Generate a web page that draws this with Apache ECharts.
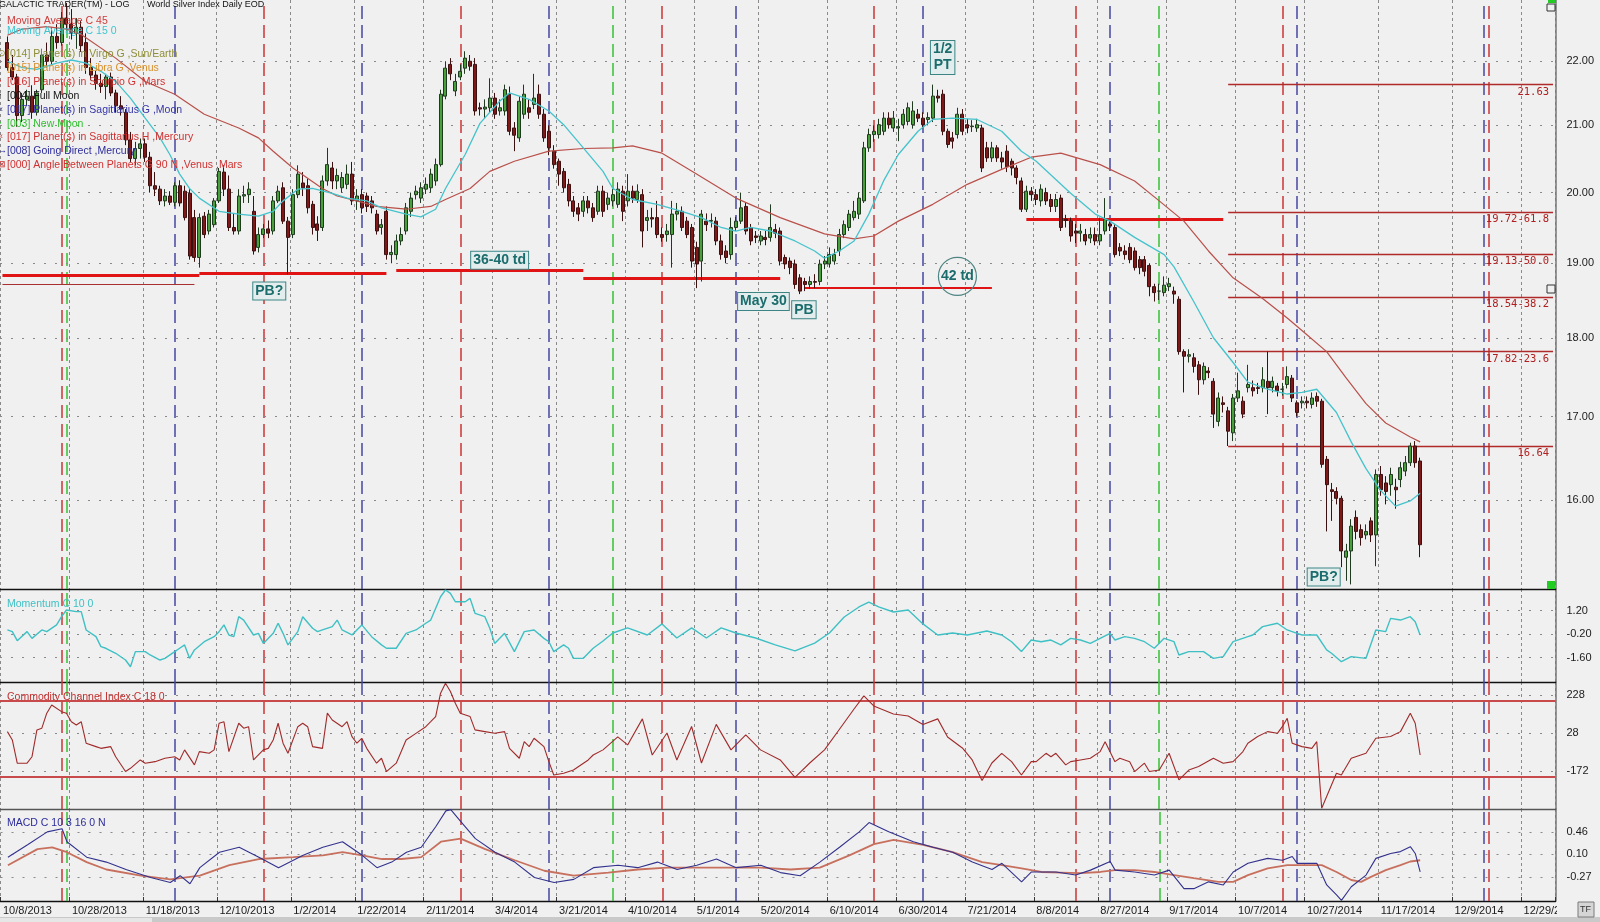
<!DOCTYPE html>
<html><head><meta charset="utf-8">
<script src="https://cdn.jsdelivr.net/npm/echarts@6/dist/echarts.min.js"></script>
<style>html,body{margin:0;padding:0;background:#f0f0f0;overflow:hidden}#c{width:1600px;height:922px}</style>
</head><body><div id="c"></div>
<script>
// ---------------- calendar / tick labels ----------------
const firstDay = [2013, 9, 8];          // 10/8/2013 (category 0, mostly off the left edge)
const dayCount = 316;
const holidays = ['2013-11-28','2013-12-25','2014-01-01','2014-01-20','2014-02-17','2014-04-18','2014-05-26','2014-07-04','2014-09-01','2014-11-27'];
const tickLabels = ['10/8/2013','10/28/2013','11/18/2013','12/10/2013','1/2/2014','1/22/2014','2/11/2014','3/4/2014','3/21/2014','4/10/2014','5/1/2014','5/20/2014','6/10/2014','6/30/2014','7/21/2014','8/8/2014','8/27/2014','9/17/2014','10/7/2014','10/27/2014','11/17/2014','12/9/2014','12/29/2014'];
const priceGrid = [16,17,18,19,20,21,22];
const priceLabels = [15,16,17,18,19,20,21,22,23,15.49];
const momTicks = [1.20,-0.20,-1.60];
const cciTicks = [228,28,-172];
const macdTicks = [0.46,0.10,-0.27];

// ---------------- price bars: [open, high, low, close]; bars[0] = 10/9/2013 ----------------
const bars = [
[22.30,22.40,21.85,21.90],[21.90,22.10,21.70,21.75],[21.75,21.80,20.98,21.15],[21.15,21.50,21.05,21.40],[21.40,21.55,21.30,21.45],
[21.45,21.62,21.10,21.20],[21.20,21.55,21.15,21.50],[21.55,22.20,21.50,22.10],[22.10,22.30,21.90,22.00],[22.00,22.55,21.95,22.40],
[22.40,22.60,22.20,22.30],[22.30,22.80,22.25,22.70],[22.70,22.95,22.50,22.60],[22.60,22.85,22.35,22.45],[22.45,22.70,22.20,22.55],
[22.55,22.65,22.15,22.25],[22.30,22.45,21.80,21.90],[21.90,22.05,21.70,21.78],[21.78,21.85,21.55,21.65],[21.65,21.80,21.50,21.60],
[21.60,21.80,21.40,21.75],[21.75,21.82,21.45,21.50],[21.50,21.55,21.20,21.30],[21.30,21.45,21.15,21.25],[21.20,21.25,20.70,20.78],
[20.78,20.90,20.45,20.50],[20.50,20.75,20.40,20.65],[20.65,20.80,20.50,20.72],[20.72,20.80,20.45,20.52],[20.52,20.60,20.00,20.10],
[20.10,20.30,19.95,20.05],[20.05,20.10,19.82,19.88],[19.88,20.05,19.80,19.95],[19.95,20.02,19.82,19.86],[19.86,20.15,19.80,20.10],
[20.10,20.18,19.80,19.85],[20.02,20.10,19.60,19.64],[19.99,20.05,19.05,19.10],[19.64,19.75,19.02,19.08],[19.08,19.70,18.94,19.64],
[19.66,19.72,19.35,19.40],[19.45,19.75,19.40,19.69],[19.54,19.92,19.50,19.88],[19.88,20.36,19.85,20.31],[20.30,20.40,19.95,20.05],
[20.05,20.25,19.45,19.50],[19.50,19.70,19.40,19.45],[19.45,20.05,19.40,19.95],[19.95,20.10,19.85,19.97],[19.97,20.15,19.85,20.05],
[19.73,19.95,19.12,19.17],[19.22,19.50,19.15,19.40],[19.40,19.55,19.35,19.48],[19.48,19.60,19.35,19.42],[19.45,19.95,19.40,19.88],
[19.88,20.10,19.85,20.02],[20.07,20.15,19.55,19.59],[19.59,19.65,18.85,19.36],[19.40,20.05,19.35,19.97],[19.97,20.40,19.92,20.27],
[20.14,20.30,19.95,20.07],[20.10,20.20,19.70,19.78],[19.83,19.88,19.40,19.50],[19.55,19.66,19.31,19.46],[19.50,20.25,19.45,20.17],
[20.17,20.66,20.10,20.41],[20.36,20.45,20.05,20.17],[20.17,20.35,20.05,20.25],[20.07,20.30,20.00,20.22],[20.12,20.41,20.05,20.27],
[20.27,20.45,19.82,19.88],[19.88,20.05,19.75,19.95],[19.97,20.05,19.70,19.78],[19.95,20.00,19.72,19.80],[19.88,19.95,19.70,19.78],
[19.69,19.75,19.40,19.45],[19.50,19.62,19.40,19.54],[19.73,19.80,19.05,19.12],[19.12,19.25,19.00,19.15],[19.12,19.40,19.05,19.31],
[19.31,19.50,19.25,19.40],[19.45,19.85,19.40,19.78],[19.73,20.00,19.65,19.92],[19.97,20.10,19.90,20.02],[19.92,20.15,19.85,20.07],
[20.05,20.22,19.98,20.12],[20.07,20.35,20.00,20.27],[20.17,20.50,20.10,20.41],[20.41,21.55,20.38,21.48],[21.45,22.00,21.40,21.89],
[21.95,22.05,21.70,21.80],[21.53,21.80,21.45,21.68],[21.75,21.95,21.70,21.84],[21.89,22.16,21.80,22.05],[22.00,22.10,21.85,21.92],
[21.95,22.05,21.15,21.22],[21.27,21.35,21.15,21.25],[21.25,21.40,21.10,21.28],[21.27,21.73,21.20,21.42],[21.42,21.50,21.10,21.17],
[21.22,21.40,21.15,21.27],[21.22,21.63,21.15,21.55],[21.48,21.60,20.85,20.91],[20.96,21.05,20.61,20.85],[20.81,21.45,20.75,21.37],
[21.17,21.63,21.10,21.48],[21.27,21.40,21.10,21.20],[21.32,21.80,21.25,21.42],[21.48,21.63,21.10,21.17],[21.17,21.25,20.75,20.81],
[20.91,21.00,20.55,20.66],[20.61,20.70,20.35,20.41],[20.46,20.50,20.10,20.27],[20.31,20.36,20.00,20.07],[20.12,20.20,19.80,19.88],
[19.88,19.95,19.65,19.73],[19.78,19.85,19.59,19.69],[19.73,19.95,19.65,19.88],[19.88,19.95,19.70,19.78],[19.78,19.85,19.58,19.64],
[19.73,20.10,19.68,20.02],[20.02,20.10,19.65,19.73],[19.83,20.00,19.75,19.92],[19.88,20.05,19.80,19.97],[19.83,20.15,19.78,20.05],
[20.02,20.10,19.59,19.73],[19.88,20.27,19.80,20.02],[20.02,20.10,19.85,19.92],[19.90,20.12,19.85,20.02],[19.97,20.05,19.22,19.45],
[19.60,19.75,19.45,19.64],[19.64,19.78,19.50,19.62],[19.64,19.88,19.35,19.40],[19.40,19.50,19.30,19.36],[19.40,19.55,19.30,19.45],
[19.40,19.88,18.94,19.69],[19.69,19.85,19.60,19.73],[19.73,19.80,19.45,19.50],[19.59,19.65,19.35,19.40],[19.50,19.55,18.94,19.03],
[19.22,19.30,18.66,18.99],[19.03,19.75,18.75,19.69],[19.59,19.70,19.45,19.54],[19.59,19.70,19.50,19.60],[19.59,19.65,19.25,19.31],
[19.31,19.40,19.05,19.12],[19.17,19.25,19.00,19.08],[19.12,19.64,19.05,19.50],[19.50,19.65,19.45,19.59],[19.59,20.00,19.55,19.78],
[19.80,19.85,19.40,19.45],[19.50,19.55,19.25,19.31],[19.38,19.45,19.28,19.36],[19.31,19.45,19.25,19.38],[19.36,19.45,19.25,19.33],
[19.36,19.83,19.30,19.50],[19.47,19.55,19.35,19.42],[19.45,19.50,18.97,19.03],[19.08,19.12,18.92,18.99],[19.03,19.08,18.85,18.94],
[18.99,19.05,18.65,18.71],[18.80,18.85,18.58,18.62],[18.75,18.80,18.62,18.71],[18.71,18.82,18.65,18.75],[18.75,18.85,18.66,18.74],
[18.75,19.05,18.70,18.99],[18.99,19.10,18.92,19.03],[18.99,19.22,18.94,19.12],[19.03,19.20,18.98,19.12],[19.17,19.48,19.10,19.40],
[19.40,19.60,19.35,19.54],[19.50,19.75,19.45,19.69],[19.64,19.88,19.60,19.73],[19.69,20.00,19.62,19.92],[19.88,20.75,19.85,20.66],
[20.66,20.95,20.60,20.86],[20.86,21.00,20.75,20.91],[20.86,21.10,20.80,21.01],[20.91,21.20,20.85,21.11],[21.11,21.20,20.95,21.01],
[20.96,21.22,20.90,21.11],[20.96,21.10,20.76,20.98],[21.01,21.25,20.95,21.17],[21.06,21.35,21.00,21.27],[21.01,21.37,20.95,21.22],
[21.17,21.25,21.05,21.11],[21.11,21.20,20.95,21.01],[21.09,21.20,21.00,21.12],[21.11,21.63,21.05,21.45],[21.45,21.55,21.35,21.42],
[21.48,21.55,20.85,20.91],[20.91,20.95,20.66,20.71],[20.81,20.90,20.65,20.76],[20.86,21.27,20.80,21.17],[21.17,21.25,20.85,20.91],
[21.01,21.10,20.88,20.96],[20.98,21.08,20.90,20.99],[20.96,21.10,20.90,21.01],[20.96,21.01,20.30,20.36],[20.66,20.75,20.45,20.51],
[20.51,20.75,20.45,20.66],[20.66,20.70,20.45,20.51],[20.51,20.60,20.35,20.45],[20.61,20.70,20.30,20.38],[20.46,20.50,20.25,20.36],
[20.36,20.40,20.12,20.22],[20.17,20.22,19.72,19.76],[19.76,20.10,19.72,20.02],[20.02,20.08,19.88,19.97],[19.97,20.05,19.82,19.90],
[19.88,20.12,19.80,20.05],[20.00,20.07,19.82,19.88],[19.90,19.98,19.72,19.80],[19.80,19.98,19.72,19.90],[19.92,19.97,19.45,19.50],
[19.62,19.68,19.50,19.60],[19.59,19.64,19.30,19.38],[19.45,19.55,19.28,19.42],[19.42,19.55,19.30,19.45],[19.40,19.48,19.25,19.31],
[19.35,19.50,19.28,19.40],[19.40,19.50,19.25,19.31],[19.31,19.64,19.25,19.40],[19.45,19.92,19.40,19.62],[19.55,19.60,19.45,19.52],
[19.50,19.55,19.08,19.12],[19.22,19.28,19.10,19.17],[19.17,19.25,19.05,19.12],[19.22,19.28,19.00,19.05],[19.17,19.22,18.90,18.94],
[19.05,19.10,18.85,18.94],[19.05,19.10,18.82,18.89],[18.97,19.00,18.55,18.68],[18.68,18.72,18.48,18.60],[18.62,18.72,18.50,18.62],
[18.60,18.82,18.55,18.70],[18.68,18.80,18.62,18.72],[18.62,18.68,18.45,18.58],[18.51,18.55,17.78,17.82],[17.82,17.85,17.30,17.76],
[17.76,17.85,17.68,17.78],[17.74,17.80,17.55,17.63],[17.65,17.70,17.27,17.46],[17.46,17.68,17.40,17.63],[17.57,17.62,17.48,17.55],
[17.44,17.48,16.86,17.03],[16.94,17.30,16.88,17.23],[17.17,17.25,17.05,17.15],[17.07,17.12,16.64,16.82],[16.80,17.28,16.70,17.23],
[17.23,17.55,17.18,17.32],[17.19,17.25,16.98,17.03],[17.36,17.65,17.30,17.40],[17.36,17.45,17.25,17.32],[17.36,17.42,17.28,17.35],
[17.36,17.62,17.30,17.46],[17.44,17.82,17.03,17.36],[17.36,17.50,17.30,17.44],[17.38,17.42,17.25,17.32],[17.34,17.42,17.26,17.34],
[17.40,17.63,17.35,17.50],[17.48,17.52,17.18,17.23],[17.17,17.20,17.00,17.05],[17.17,17.25,17.10,17.19],[17.19,17.25,17.10,17.17],
[17.15,17.30,17.10,17.23],[17.25,17.30,17.12,17.19],[17.19,17.22,16.38,16.42],[16.48,16.52,15.64,16.18],[16.12,16.20,15.76,16.10],
[16.10,16.15,15.95,16.02],[16.02,16.05,15.24,15.42],[15.35,15.50,15.09,15.42],[15.42,15.78,15.05,15.70],[15.80,15.88,15.55,15.64],
[15.66,15.72,15.48,15.57],[15.60,15.72,15.55,15.64],[15.76,15.80,15.52,15.60],[15.60,16.36,15.25,16.30],[16.30,16.40,16.05,16.12],
[16.20,16.28,15.95,16.10],[16.18,16.38,16.05,16.30],[16.15,16.25,15.90,16.12],[16.24,16.45,16.15,16.38],[16.34,16.52,16.28,16.44],
[16.44,16.68,16.40,16.64],[16.64,16.70,16.38,16.44],[16.46,16.50,15.35,15.49]
];

// ---------------- moving averages / indicators: [bar number, value] ----------------
const ma45 = [[0,22.42],[3,22.52],[8,22.56],[12,22.52],[15,22.43],[22,22.05],[28,21.68],[34,21.48],[40,21.17],[47,20.96],[51,20.81],[54,20.61],[58,20.36],[64,20.06],[67,19.95],[71,19.88],[75,19.80],[81,19.76],[86,19.80],[89,19.90],[94,20.06],[98,20.31],[103,20.46],[110,20.61],[117,20.65],[123,20.66],[127,20.69],[133,20.58],[140,20.27],[148,19.92],[157,19.64],[166,19.41],[172,19.34],[176,19.38],[181,19.59],[188,19.83],[195,20.12],[202,20.34],[208,20.52],[214,20.58],[222,20.41],[229,20.17],[234,19.88],[239,19.59],[244,19.17],[249,18.80],[255,18.52],[260,18.26],[264,18.04],[268,17.82],[272,17.48],[276,17.16],[280,16.92],[285,16.75],[287,16.69]];
const ma15 = [[0,22.00],[3,21.90],[6,21.87],[10,21.97],[13,22.02],[16,21.97],[19,21.84],[22,21.68],[25,21.42],[28,21.11],[31,20.81],[33,20.56],[35,20.27],[37,20.06],[39,19.92],[43,19.73],[47,19.69],[51,19.66],[54,19.73],[56,19.88],[59,20.05],[62,20.06],[66,19.99],[69,19.92],[73,19.88],[76,19.78],[81,19.69],[84,19.65],[87,19.76],[89,20.06],[93,20.56],[96,21.03],[100,21.37],[102,21.50],[106,21.40],[110,21.22],[113,21.01],[117,20.66],[121,20.31],[123,20.06],[127,19.90],[132,19.83],[137,19.73],[141,19.64],[145,19.50],[148,19.45],[151,19.50],[155,19.45],[160,19.31],[164,19.17],[166,19.07],[169,19.17],[172,19.31],[175,19.69],[178,20.17],[181,20.56],[185,20.91],[188,21.09],[192,21.11],[197,21.09],[202,20.91],[206,20.61],[209,20.46],[216,19.99],[221,19.69],[224,19.59],[229,19.36],[235,19.12],[237,18.95],[241,18.48],[245,18.00],[249,17.68],[252,17.43],[256,17.34],[260,17.28],[263,17.30],[266,17.34],[270,17.05],[273,16.69],[276,16.37],[279,16.11],[282,15.93],[285,15.99],[287,16.08]];
const momentum = [[0,0.04],[1,-0.06],[2,-0.60],[4,-0.06],[5,-0.46],[7,0.04],[8,-0.06],[10,0.34],[11,0.83],[12,1.23],[14,1.13],[15,1.13],[16,0.04],[18,-0.36],[19,-0.95],[20,-1.05],[22,-1.35],[24,-1.75],[25,-2.15],[26,-1.25],[28,-1.25],[29,-1.45],[31,-1.75],[32,-1.65],[34,-1.25],[35,-1.05],[36,-0.85],[37,-1.65],[38,-1.15],[40,-0.66],[42,-0.36],[43,-0.06],[44,0.34],[45,-0.26],[46,-0.36],[47,0.83],[48,0.63],[50,-0.26],[51,-0.16],[52,-0.76],[54,-0.16],[55,0.44],[56,-0.16],[57,-0.85],[59,-0.06],[60,0.83],[62,0.14],[63,-0.06],[64,0.04],[66,0.24],[67,0.63],[68,0.04],[70,-0.26],[72,0.34],[74,-0.36],[76,-0.85],[77,-1.05],[79,-1.05],[81,-0.16],[83,0.04],[85,0.44],[86,0.63],[88,2.02],[89,2.42],[90,2.22],[91,1.72],[93,1.72],[94,1.92],[95,1.03],[97,0.83],[98,0.14],[99,-0.76],[101,-0.16],[103,-1.25],[105,-0.06],[107,0.04],[109,-0.46],[110,-0.66],[111,-1.25],[113,-0.85],[114,-1.05],[115,-1.65],[117,-1.65],[119,-1.05],[121,-0.62],[123,-0.14],[126,0.16],[130,-0.26],[133,0.40],[136,-0.44],[139,0.16],[142,-0.44],[145,0.16],[148,-0.14],[152,-0.44],[156,-0.85],[160,-1.21],[164,-0.74],[167,-0.14],[170,0.81],[173,1.41],[175,1.70],[177,1.41],[180,1.11],[183,1.23],[186,0.40],[189,-0.26],[192,-0.14],[195,-0.26],[199,-0.02],[202,-0.26],[204,-0.66],[206,-1.25],[208,-0.56],[210,-0.66],[212,-0.56],[214,-0.85],[216,-0.46],[218,-0.56],[220,-0.76],[222,-0.46],[224,-0.16],[225,-0.56],[227,-0.36],[229,-0.46],[231,-0.66],[233,-1.05],[235,-0.46],[237,-0.66],[238,-1.45],[240,-1.25],[243,-1.25],[245,-1.65],[247,-1.55],[249,-0.66],[252,-0.36],[253,-0.26],[255,0.24],[258,0.44],[260,0.04],[262,-0.16],[263,-0.26],[266,-0.26],[268,-1.15],[269,-1.35],[271,-1.85],[273,-1.55],[276,-1.65],[278,0.04],[280,-0.06],[281,0.73],[283,0.63],[285,0.83],[286,0.53],[287,-0.26]];
const cci = [[0,35],[1,-9],[2,-131],[4,-131],[5,-97],[6,44],[7,53],[8,132],[9,175],[11,140],[12,132],[13,87],[14,70],[15,87],[16,-26],[18,-44],[19,-53],[21,-44],[22,-97],[24,-175],[25,-158],[27,-114],[28,-131],[30,-123],[31,-114],[32,-105],[34,-97],[35,-114],[36,-61],[38,-140],[39,-70],[41,-79],[42,-61],[43,79],[44,87],[45,-70],[47,79],[48,53],[49,61],[50,-114],[52,-61],[53,-53],[54,-9],[55,79],[56,-26],[57,-79],[59,61],[60,79],[61,61],[62,-44],[64,-53],[65,132],[66,96],[68,61],[69,87],[70,9],[71,-26],[72,0],[73,-53],[75,-131],[76,-105],[77,-175],[79,-131],[81,-9],[83,26],[85,61],[86,87],[87,114],[88,237],[89,289],[90,246],[91,184],[92,132],[94,114],[95,44],[97,35],[99,26],[101,35],[102,-53],[104,-105],[105,-18],[106,-44],[107,0],[109,-44],[110,-123],[111,-193],[113,-184],[115,-167],[118,-114],[119,-88],[121,-61],[124,7],[126,-35],[129,102],[131,-88],[134,28],[136,-114],[139,62],[141,-130],[144,73],[147,-61],[150,18],[153,-61],[157,-114],[160,-206],[163,-130],[166,-61],[169,46],[172,154],[174,223],[176,170],[180,128],[183,117],[186,73],[189,102],[191,7],[194,-51],[196,-114],[198,-222],[200,-130],[202,-79],[204,-123],[206,-193],[208,-123],[209,-123],[211,-79],[212,-97],[213,-79],[215,-140],[216,-123],[218,-114],[220,-105],[222,-70],[223,-18],[225,-123],[226,-105],[228,-123],[229,-175],[231,-131],[232,-175],[234,-167],[236,-79],[238,-219],[240,-167],[242,-149],[245,-105],[247,-131],[249,-123],[251,-70],[252,-26],[254,9],[256,35],[258,26],[259,61],[260,105],[261,-26],[263,-44],[265,-53],[266,-18],[267,-368],[270,-184],[271,-193],[273,-105],[276,-79],[278,0],[281,9],[283,35],[285,132],[286,79],[287,-88]];
const macd = [[0,0.05],[4,0.25],[8,0.46],[11,0.51],[12,0.30],[16,0.05],[20,-0.03],[24,-0.15],[29,-0.28],[33,-0.36],[35,-0.25],[37,-0.38],[39,-0.12],[43,0.13],[47,0.21],[51,0.05],[55,-0.12],[60,0.08],[64,0.21],[68,0.30],[72,0.08],[75,-0.12],[78,-0.03],[81,0.13],[84,0.21],[87,0.55],[89,0.80],[90,0.82],[92,0.63],[95,0.35],[99,0.13],[103,-0.03],[107,-0.28],[111,-0.36],[115,-0.31],[119,-0.12],[124,-0.08],[128,-0.12],[132,-0.03],[136,-0.15],[140,-0.08],[144,0.02],[148,-0.12],[153,-0.08],[157,-0.20],[161,-0.25],[165,-0.03],[169,0.21],[173,0.46],[175,0.61],[179,0.46],[184,0.30],[188,0.21],[192,0.13],[196,-0.03],[200,-0.15],[202,-0.05],[206,-0.35],[208,-0.19],[213,-0.19],[217,-0.24],[220,-0.16],[224,-0.02],[225,-0.16],[229,-0.19],[233,-0.24],[236,-0.16],[239,-0.46],[241,-0.46],[244,-0.35],[247,-0.40],[249,-0.19],[252,-0.05],[256,0.03],[259,0.00],[261,0.06],[262,-0.05],[264,-0.05],[266,-0.05],[268,-0.40],[270,-0.56],[271,-0.65],[273,-0.43],[276,-0.24],[278,0.03],[281,0.11],[283,0.14],[285,0.22],[286,0.11],[287,-0.19]];
const macdSignal = [[0,-0.08],[6,0.18],[9,0.21],[12,0.13],[16,-0.03],[20,-0.15],[27,-0.25],[33,-0.31],[39,-0.25],[45,-0.08],[51,0.02],[58,0.05],[64,0.08],[68,0.13],[72,0.08],[76,0.02],[80,0.02],[84,0.05],[88,0.30],[92,0.35],[97,0.18],[103,0.00],[109,-0.17],[115,-0.25],[122,-0.20],[128,-0.15],[134,-0.12],[144,-0.12],[153,-0.12],[159,-0.15],[165,-0.12],[171,0.08],[176,0.26],[180,0.33],[186,0.25],[192,0.13],[198,-0.03],[202,-0.08],[206,-0.13],[210,-0.19],[214,-0.20],[218,-0.21],[222,-0.19],[225,-0.16],[229,-0.16],[233,-0.19],[237,-0.24],[241,-0.29],[246,-0.35],[249,-0.35],[252,-0.24],[256,-0.13],[260,-0.08],[264,-0.08],[267,-0.08],[270,-0.19],[273,-0.32],[275,-0.35],[277,-0.27],[280,-0.16],[283,-0.08],[285,-0.02],[287,0.00]];

// ---------------- event lines (bar numbers) ----------------
const redEvents = [11,52,92,133,176,217,259,301];
const navyEvents = [34,72,110,148,186,224,262,300];
const greenEvents = [12,123,234];
// support lines: [fromBar, toBar, price, width]
const supportLines = [[-1,39,18.83,3],[39,77,18.86,3],[79,117,18.91,3],[117,157,18.80,3],[162,200,18.66,2],[207,247,19.62,3]];
const thinSupport = [-1,38,18.71];
// retracement levels: [price, label]
const fibLevels = [[21.63,'21.63'],[19.72,'19.72-61.8'],[19.13,'19.13-50.0'],[18.54,'18.54-38.2'],[17.82,'17.82-23.6'],[16.64,'16.64']];
const fibStart = 248, fibEnd = 314;
// text annotations: [bar, price, text, dx, dy]
const notes = [[53,18.62,'PB?',1,0],[100,19.04,'36-40 td',0,0],[154,18.48,'May 30',-2,0],[161,18.37,'PB',4,0],[190,22.06,'1/2\nPT',0,0],[267,15.13,'PB?',2,0]];
const circleNote = [193,18.82,'42 td'];

// ---------------- build ----------------
const BAR0 = 1;                          // bars[0] (10/9/2013) sits at category 1
const at = i => i + BAR0;
const pts = arr => arr.map(([i, v]) => [at(i), v]);

const cats = [];
(function () {
  const d = new Date(Date.UTC(firstDay[0], firstDay[1], firstDay[2]));
  while (cats.length < dayCount) {
    const wd = d.getUTCDay(), iso = d.toISOString().slice(0, 10);
    if (wd !== 0 && wd !== 6 && holidays.indexOf(iso) < 0)
      cats.push((d.getUTCMonth() + 1) + '/' + d.getUTCDate() + '/' + d.getUTCFullYear());
    d.setUTCDate(d.getUTCDate() + 1);
  }
})();
const tickSet = new Set(tickLabels);
const isTick = (idx, val) => tickSet.has(val);

const FONT = '"Liberation Sans", Arial, sans-serif';
const GL = -5.5, GW = 1561;
const grids = [
  {left: GL, top: 0, width: GW, height: 589},
  {left: GL, top: 589, width: GW, height: 93},
  {left: GL, top: 682, width: GW, height: 127},
  {left: GL, top: 809, width: GW, height: 92}
];
const xAxes = grids.map((g, k) => ({
  type: 'category', gridIndex: k, data: cats, boundaryGap: true,
  axisLine: {show: true, onZero: false, lineStyle: {color: k === 2 ? '#555' : '#111', width: 1.3}},
  axisTick: {show: k === 3, inside: true, length: 4, interval: isTick, lineStyle: {color: '#333'}},
  axisLabel: {show: k === 3, interval: isTick, align: 'left', margin: 4, fontSize: 11, color: '#1a1a1a', fontFamily: FONT},
  splitLine: {show: true, interval: isTick, lineStyle: {color: '#8a8a8a', type: [3, 3], width: 1}}
}));
const yBase = {position: 'right', axisLine: {show: true, lineStyle: {color: '#777', width: 1.5}}, axisTick: {show: false}, axisLabel: {show: false}, splitLine: {show: false}};
const yAxes = [
  Object.assign({type: 'log', logBase: 10, gridIndex: 0, min: 15, max: 23}, yBase),
  Object.assign({type: 'value', gridIndex: 1, min: -3.06, max: 2.48}, yBase),
  Object.assign({type: 'value', gridIndex: 2, min: -372, max: 296}, yBase),
  Object.assign({type: 'value', gridIndex: 3, min: -0.66, max: 0.83}, yBase)
];

const dash = [13, 6];
const eventData = [].concat(
  redEvents.map(i => ({xAxis: at(i), lineStyle: {color: '#cc3535', type: dash, width: 1.5}})),
  navyEvents.map(i => ({xAxis: at(i), lineStyle: {color: '#4646a0', type: dash, width: 1.5}})),
  greenEvents.map(i => ({xAxis: at(i), lineStyle: {color: '#35c035', type: dash, width: 1.5}}))
);
function levelData(lineVals, labelVals, fmt) {
  const out = [];
  const all = Array.from(new Set(lineVals.concat(labelVals)));
  all.forEach(v => out.push({
    yAxis: v === 23 ? 22.98 : v,
    lineStyle: lineVals.indexOf(v) >= 0 ? {color: '#8a8a8a', type: [2, 9], width: 1} : {opacity: 0, width: 0},
    label: {show: labelVals.indexOf(v) >= 0, formatter: fmt(v)}
  }));
  return out;
}
const lvlLabel = {show: true, position: 'end', distance: 11, color: '#1a1a1a', fontSize: 11, fontFamily: FONT};
function helper(k, z, extra) {
  return Object.assign({type: 'line', xAxisIndex: k, yAxisIndex: k, data: [], silent: true, z: z, clip: false, showSymbol: false}, extra);
}
const series = [];
grids.forEach((g, k) => {
  series.push(helper(k, 1, {markLine: {silent: true, symbol: ['none', 'none'], animation: false, label: {show: false}, data: eventData}}));
});
series.push(helper(0, 2, {markLine: {silent: true, symbol: ['none', 'none'], animation: false, label: lvlLabel,
  data: levelData(priceGrid, priceLabels, v => v.toFixed(2))}}));
series.push(helper(1, 2, {markLine: {silent: true, symbol: ['none', 'none'], animation: false, label: lvlLabel,
  data: levelData(momTicks, momTicks, v => v.toFixed(2))}}));
series.push(helper(2, 2, {markLine: {silent: true, symbol: ['none', 'none'], animation: false, label: lvlLabel,
  data: levelData(cciTicks, cciTicks, v => String(v)).concat([
    {yAxis: 200, lineStyle: {color: '#c84a4a', type: 'solid', width: 2}, label: {show: false}},
    {yAxis: -200, lineStyle: {color: '#c84a4a', type: 'solid', width: 2}, label: {show: false}}])}}));
series.push(helper(3, 2, {markLine: {silent: true, symbol: ['none', 'none'], animation: false, label: lvlLabel,
  data: levelData(macdTicks, macdTicks, v => v.toFixed(2))}}));

// candles
series.push({
  type: 'candlestick', xAxisIndex: 0, yAxisIndex: 0, z: 5, barWidth: 3.5,
  data: bars.map((b, i) => [at(i), b[0], b[3], b[2], b[1]]),
  encode: {x: 0, y: [1, 2, 3, 4]},
  itemStyle: {color: '#47a03a', color0: '#801818', borderColor: '#203a20', borderColor0: '#3a1010', borderWidth: 1}
});
const lineS = (k, data, color, width, z) => ({type: 'line', xAxisIndex: k, yAxisIndex: k, data: pts(data), showSymbol: false, symbol: 'none', silent: true, z: z || 6, lineStyle: {color: color, width: width}});
series.push(lineS(0, ma45, '#b9504a', 1.2));
series.push(lineS(0, ma15, '#45c3cc', 1.3));
series.push(lineS(1, momentum, '#3fc0c4', 1.4));
series.push(lineS(2, cci, '#a02a2a', 1.1));
series.push(lineS(3, macdSignal, '#c8705e', 1.8));
series.push(lineS(3, macd, '#32328e', 1.1, 7));

// support + retracement lines
const segData = supportLines.map(([a, b, p, w]) => [
  {coord: [Math.max(0, at(a)), p], lineStyle: {color: '#e01414', width: w, type: 'solid'}},
  {coord: [at(b), p]}
]);
segData.push([{coord: [Math.max(0, at(thinSupport[0])), thinSupport[2]], lineStyle: {color: '#a83030', width: 1.2, type: 'solid'}}, {coord: [at(thinSupport[1]), thinSupport[2]]}]);
fibLevels.forEach(([p, t]) => segData.push([
  {coord: [at(fibStart), p], lineStyle: {color: '#b02a2a', width: 1.3, type: 'solid'},
   label: {show: true, position: 'insideEndBottom', formatter: t, distance: [4, 2], color: '#b02020', fontSize: 10.5, fontFamily: '"DejaVu Sans Mono", monospace'}},
  {coord: [at(fibEnd), p]}
]));
series.push(helper(0, 4, {markLine: {silent: true, symbol: ['none', 'none'], animation: false, label: {show: false}, data: segData}}));

// annotation boxes
const boxLabel = {show: true, position: 'inside', color: '#1b6c6c', fontWeight: 'bold', fontSize: 14, fontFamily: FONT,
  backgroundColor: '#e3eded', borderColor: '#3d8585', borderWidth: 1, padding: [1, 2, 0, 2], lineHeight: 16};
const mp = notes.map(([i, p, t, dx, dy]) => ({coord: [at(i), p], symbol: 'rect', symbolSize: 1, itemStyle: {color: 'rgba(0,0,0,0)'},
  label: Object.assign({}, boxLabel, {formatter: t, offset: [dx, dy]})}));
mp.push({coord: [at(circleNote[0]), circleNote[1]], symbol: 'circle', symbolSize: 38,
  itemStyle: {color: 'rgba(0,0,0,0)', borderColor: '#4f8484', borderWidth: 1.2},
  label: {show: true, position: 'inside', formatter: circleNote[2], color: '#1b6c6c', fontWeight: 'bold', fontSize: 14, fontFamily: FONT}});
series.push(helper(0, 10, {markPoint: {silent: true, animation: false, data: mp}}));

// ---------------- texts ----------------
const graphics = [];
function txt(x, y, text, color, size, extra) {
  graphics.push({type: 'text', x: x, y: y, z: 100, silent: true,
    style: Object.assign({text: text, fill: color, font: size + 'px ' + FONT, verticalAlign: 'middle', align: 'left'}, extra || {})});
}
txt(-1, 5, 'GALACTIC TRADER(TM) - LOG', '#111', 9);
txt(147, 5, 'World Silver Index Daily EOD', '#111', 9);
const legendRows = [
  ['', 'Moving Average C 45', '#d03a3a', 21],
  ['', 'Moving Average C 15 0', '#3fc4cf', 31],
  ['\u2299', '[014] Planet(s) in Virgo G ,Sun/Earth', '#8e8e38', 54],
  ['', '[015] Planet(s) in Libra G ,Venus', '#d8902c', 68],
  ['\u2022', '[016] Planet(s) in Scorpio G ,Mars', '#d03030', 82],
  ['\u2022', '[004] Full Moon', '#111', 96],
  ['\u00ab', '[017] Planet(s) in Sagittarius G ,Moon', '#3434a8', 110],
  ['\u2022', '[003] New Moon', '#34c034', 124],
  ['\u00ab', '[017] Planet(s) in Sagittarius H ,Mercury', '#d03030', 137],
  ['\u2192', '[008] Going Direct ,Mercury', '#2c2c9c', 151],
  ['\u22a0', '[000] Angle Between Planets G 90 N ,Venus ,Mars', '#d03030', 165]
];
legendRows.forEach(([p, t, c, y]) => { if (p) txt(-2, y, p, c, 9); txt(7, y, t, c, 10.5); });
txt(7, 604, 'Momentum C 10 0', '#3fc0c4', 10.5);
txt(7, 697, 'Commodity Channel Index C 18 0', '#c03030', 10.5);
txt(7, 823, 'MACD C 10 3 16 0 N', '#2c2c9c', 10.5);
// window chrome
graphics.push({type: 'rect', z: 90, silent: true, shape: {x: 1557, y: 903, width: 43, height: 14}, style: {fill: '#f0f0f0'}});
graphics.push({type: 'rect', z: 90, silent: true, shape: {x: 0, y: 917, width: 1600, height: 5}, style: {fill: '#c9c9c9'}});
graphics.push({type: 'rect', z: 91, silent: true, shape: {x: 0, y: 918, width: 152, height: 4}, style: {fill: '#e6e6e6'}});
graphics.push({type: 'rect', z: 92, silent: true, shape: {x: 1578, y: 902, width: 16, height: 15}, style: {fill: '#d5d5d5', stroke: '#7a7a7a', lineWidth: 1}});
txt(1580, 910, 'TF', '#333', 9);
graphics.push({type: 'rect', z: 92, silent: true, shape: {x: 1548, y: 0, width: 7, height: 3}, style: {fill: '#22cc22'}});
graphics.push({type: 'rect', z: 92, silent: true, shape: {x: 1547, y: 4, width: 8, height: 7}, style: {fill: '#f0f0f0', stroke: '#333', lineWidth: 1}});
graphics.push({type: 'rect', z: 92, silent: true, shape: {x: 1547, y: 285, width: 8, height: 8}, style: {fill: '#f0f0f0', stroke: '#333', lineWidth: 1}});
graphics.push({type: 'rect', z: 92, silent: true, shape: {x: 1547, y: 581, width: 8, height: 8}, style: {fill: '#22cc22'}});

const chart = echarts.init(document.getElementById('c'), null, {renderer: 'canvas', devicePixelRatio: 1});
chart.setOption({
  backgroundColor: '#f0f0f0',
  animation: false,
  grid: grids,
  xAxis: xAxes,
  yAxis: yAxes,
  series: series,
  graphic: graphics
});
</script></body></html>
